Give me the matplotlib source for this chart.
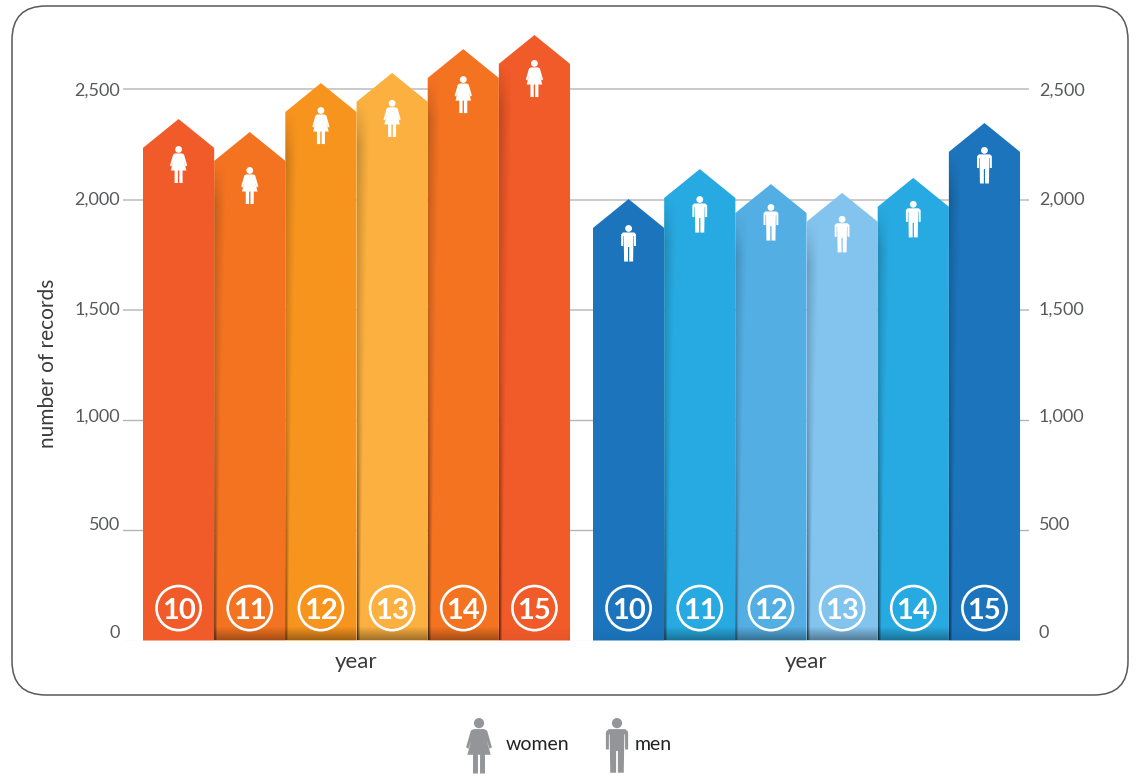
import numpy as np
import matplotlib
matplotlib.use('Agg')
import matplotlib.pyplot as plt
from matplotlib.patches import Polygon, FancyBboxPatch, PathPatch
from matplotlib.path import Path
from matplotlib.transforms import Affine2D, IdentityTransform, ScaledTranslation

plt.rcParams['font.family'] = ['Lato', 'DejaVu Sans']

years = ['10', '11', '12', '13', '14', '15']
women = [2365, 2306, 2528, 2574, 2682, 2746]
men = [2002, 2138, 2070, 2030, 2098, 2347]
ticks = [0, 500, 1000, 1500, 2000, 2500]
tick_labels = ['0', '500', '1,000', '1,500', '2,000', '2,500']

women_colors = ['#F15A29', '#F47321', '#F7941E', '#FBB040', '#F47321', '#F15A29']
men_colors = ['#1C75BC', '#27AAE1', '#53AEE3', '#83C4EE', '#27AAE1', '#1C75BC']

W, H = 1140, 779
BAR_PX = 71.17
Y0_PX = 640.5          # pixel row of value 0
PX_PER_UNIT = 0.2205
SHOULDER = 131         # height of the arrow head, in records
MEN_START = 6.323      # first men bar, in bar widths
TEXT = '#58595b'
DARK = '#3a3a3c'

fig = plt.figure(figsize=(W/100, H/100), dpi=100, facecolor='white')
# axes covers pixels x 123..1029, y 20..640.5
ax = fig.add_axes([123/W, (H-Y0_PX)/H, (1029-123)/W, (Y0_PX-20)/H])
ax.set_xlim((123-143)/BAR_PX, (1029-143)/BAR_PX)
ax.set_ylim(0, (Y0_PX-20)/PX_PER_UNIT)
fig.canvas.draw()
for s in ax.spines.values():
    s.set_visible(False)
ax.patch.set_alpha(0)


def person(kind):
    # icon outline, 37 units tall, y pointing down from the top of the head
    head = Path.circle((0, 3.4), 3.4)
    if kind == 'w':
        body = [(-3.5, 7.4), (3.5, 7.4), (5.4, 8.4), (8.6, 19.5), (7.0, 20.5), (5.0, 14.5),
                (7.8, 24.5), (4.0, 24.5), (4.0, 37), (0.7, 37), (0.7, 24.5), (-0.7, 24.5),
                (-0.7, 37), (-4.0, 37), (-4.0, 24.5), (-7.8, 24.5), (-5.0, 14.5),
                (-7.0, 20.5), (-8.6, 19.5), (-5.4, 8.4)]
    else:
        body = [(-5.5, 7.4), (5.5, 7.4), (7.4, 9.2), (7.4, 21), (5.4, 21), (5.4, 11),
                (4.9, 11), (4.5, 36.5), (0.6, 36.5), (0.6, 22), (-0.6, 22), (-0.6, 36.5),
                (-4.5, 36.5), (-4.9, 11), (-5.4, 11), (-5.4, 21), (-7.4, 21),
                (-7.4, 9.2)]
    return Path.make_compound_path(head, Path(body + [body[0]], closed=True))


def draw_icon(kind, x_px, y_px, scale, color):
    # x_px, y_px is the top centre of the icon in image pixels
    tr = Affine2D().scale(scale, -scale).translate(x_px, H - y_px)
    fig.add_artist(PathPatch(person(kind), fc=color, ec='none', transform=tr, zorder=6))


def shadow(x0, val, top_a, bot_a, clip):
    # soft shadow thrown on the left edge of a bar, wide on top, tight at the foot
    n = int(val*PX_PER_UNIT)
    cols = 26
    img = np.zeros((n, cols, 4))
    shoulder_row = SHOULDER*PX_PER_UNIT
    for r in range(n):
        t = 1 - r/n
        w = 3 + 11*t**1.3
        fade = min(1, max(0, (r - shoulder_row)/45))
        a = (0.22*t + 0.62*(1-t)**3)*fade*top_a
        for c in range(cols):
            img[r, c, 3] = a*max(0, 1 - c/w)**1.2
    im = ax.imshow(img, extent=[x0, x0+cols/BAR_PX, 0, val], aspect='auto', zorder=4,
                   interpolation='bilinear')
    im.set_clip_path(clip)
    foot = np.zeros((14, 2, 4))
    foot[:, :, 3] = np.linspace(0, bot_a, 14)[:, None]
    im2 = ax.imshow(foot, extent=[x0, x0+1, 0, 14/PX_PER_UNIT], aspect='auto', zorder=4,
                    interpolation='bilinear')
    im2.set_clip_path(clip)


def draw_group(values, colors, start, kind, foot_alpha, icon_drop):
    for i, v in enumerate(values):
        x0 = start + i
        pts = [(x0, 0), (x0, v-SHOULDER), (x0+0.5, v), (x0+1, v-SHOULDER), (x0+1, 0)]
        bar = Polygon(pts, closed=True, fc=colors[i], ec='none', zorder=3)
        ax.add_patch(bar)
        shadow(x0, v, 1.0 if i > 0 else 0.0, foot_alpha[i], bar)
        ax.scatter([x0+0.5], [147], s=1010, fc='none', ec='white', lw=1.9, zorder=5)
        ax.text(x0+0.5, 147, years[i], color='white', fontsize=21, fontweight='bold',
                ha='center', va='center_baseline', zorder=5)
        # the icon hangs below the arrow tip
        xd, yd = ax.transData.transform((x0+0.5, v))
        draw_icon(kind, xd, H - yd + icon_drop[i], 1.0, 'white')


draw_group(women, women_colors, 0, 'w', [0, 0.32, 0.34, 0.36, 0.32, 0.05],
           [27, 35, 24, 27, 27, 25])
draw_group(men, men_colors, MEN_START, 'm', [0.05, 0.32, 0.34, 0.36, 0.32, 0.05],
           [26, 27, 20, 23, 23, 24])
ax.set_xlim((123-143)/BAR_PX, (1029-143)/BAR_PX)
ax.set_ylim(0, (Y0_PX-20)/PX_PER_UNIT)

# grid lines run behind the bars
ax.set_axisbelow(True)
ax.set_yticks(ticks, tick_labels)
ax.yaxis.grid(True, color='#b5b5b5', lw=1.0)
for t, g in zip(ticks, ax.get_ygridlines()):
    if t == 0:
        g.set_color('#eeeeee')
    if t >= 1500:
        g.set_color('#c6c6c6')
        g.set_linewidth(1.3)

ax.tick_params(axis='y', length=0, labelleft=True, labelright=True, labelsize=13,
               labelcolor=TEXT, pad=2)
# the printed labels sit a little above their lines, more so towards zero
nudge = [9.5, 7, 5, 2, 1, 0]
for tk, dy in zip(ax.yaxis.get_major_ticks(), nudge):
    up = ScaledTranslation(0, dy/100, fig.dpi_scale_trans)
    tk.label1.set_transform(tk.label1.get_transform() + up)
    right = ScaledTranslation(7/100, dy/100, fig.dpi_scale_trans)
    tk.label2.set_transform(tk.label2.get_transform() + right)

ax.set_xticks([3, MEN_START+3], ['year', 'year'], fontsize=16, color=DARK)
ax.tick_params(axis='x', length=0, pad=8)
ax.set_ylabel('number of records', fontsize=15, color=DARK)
ax.yaxis.set_label_coords((58-123)/(1029-123), (Y0_PX-363)/(Y0_PX-20))

# rounded outer frame, in image pixels
frame = FancyBboxPatch((12+34, H-695+34), 1128-12-68, 695-6-68,
                       boxstyle='round,pad=34,rounding_size=34', fc='none', ec='#58595b',
                       lw=1.1, transform=IdentityTransform(), zorder=7)
fig.add_artist(frame)

# legend
draw_icon('w', 479, 718, 1.5, '#939598')
draw_icon('m', 617, 718, 1.5, '#939598')
fig.text(506/W, 1-745/H, 'women', fontsize=14, color='#222222', va='center')
fig.text(635/W, 1-745/H, 'men', fontsize=14, color='#222222', va='center')

fig.savefig('out.png', dpi=100, facecolor='white')
